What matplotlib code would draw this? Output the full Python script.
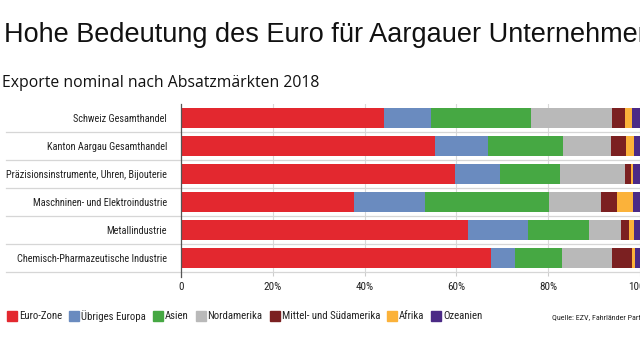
import matplotlib
matplotlib.use("Agg")
import matplotlib.pyplot as plt
from matplotlib import font_manager
from matplotlib.patches import Rectangle
from matplotlib.textpath import TextPath
from matplotlib.font_manager import FontProperties

categories = [
    "Schweiz Gesamthandel",
    "Kanton Aargau Gesamthandel",
    "Präzisionsinstrumente, Uhren, Bijouterie",
    "Maschninen- und Elektroindustrie",
    "Metallindustrie",
    "Chemisch-Pharmazeutische Industrie",
]
series_names = ["Euro-Zone", "Übriges Europa", "Asien", "Nordamerika",
                "Mittel- und Südamerika", "Afrika", "Ozeanien"]
euro_zone = [44.2, 55.4, 59.8, 37.6, 62.5, 67.5]
uebriges_europa = [10.3, 11.5, 9.8, 15.6, 13.0, 5.3]
asien = [21.7, 16.3, 13.0, 26.9, 13.3, 10.3]
nordamerika = [17.7, 10.4, 14.2, 11.5, 7.1, 10.9]
mittel_suedamerika = [2.9, 3.4, 1.2, 3.4, 1.6, 4.3]
afrika = [1.5, 1.7, 0.4, 3.5, 1.1, 0.7]
ozeanien = [1.7, 1.3, 1.6, 1.5, 1.4, 1.0]
xticks = [0, 20, 40, 60, 80, 100]
xtick_labels = ["0", "20%", "40%", "60%", "80%", "100%"]

title = "Hohe Bedeutung des Euro für Aargauer Unternehmen"
subtitle = "Exporte nominal nach Absatzmärkten 2018"
source = "Quelle: EZV, Fahrländer Partner"

colors = ["#e3282f", "#6a8bbf", "#46a843", "#b9b9b9", "#7b2021", "#fbb23a", "#4b2a86"]

installed = {f.name for f in font_manager.fontManager.ttflist}
narrow = "Roboto"
for cand in ["Liberation Sans Narrow", "Roboto Condensed", "Open Sans Condensed"]:
    if cand in installed:
        narrow = cand
        break

DPI = 100
PX = 72 / DPI  # points per pixel


def fit_size(text, target_px, family):
    tp = TextPath((0, 0), text, size=10, prop=FontProperties(family=family))
    w = tp.get_extents().width * DPI / 72
    return 10 * target_px / w


W, H = 640, 360
fig = plt.figure(figsize=(6.4, 3.6), dpi=DPI)
ax = fig.add_axes([181 / W, 1 - 272 / H, 459 / W, 168 / H])

series = [euro_zone, uebriges_europa, asien, nordamerika,
          mittel_suedamerika, afrika, ozeanien]
y = list(range(len(categories)))
left = [0.0] * len(categories)
for name, vals, c in zip(series_names, series, colors):
    ax.barh(y, vals, left=left, height=0.71, color=c, zorder=3, label=name)
    left = [l + v for l, v in zip(left, vals)]

cat_fs = fit_size(categories[2], 161, narrow)
tick_fs = fit_size("20%", 17, narrow)
leg_fs = fit_size("Euro-Zone", 42, narrow)
src_fs = fit_size("Quelle: EZV, Fahrländer Part", 88, narrow)

ax.set_xlim(0, 100)
ax.set_ylim(len(categories) - 0.5, -0.5)
ax.set_yticks(y)
ax.set_yticklabels(categories, fontfamily=narrow, fontsize=cat_fs, color="#222222")
ax.tick_params(axis="y", length=0, pad=14 * PX)
ax.set_xticks(xticks)
ax.set_xticklabels(xtick_labels, fontfamily=narrow, fontsize=tick_fs, color="#222222")
ax.tick_params(axis="x", length=4 * PX, color="#cccccc", pad=6.5 * PX)
for spine in ax.spines.values():
    spine.set_visible(False)
for xv in xticks[1:]:
    ax.axvline(xv, color="#d9d9d9", lw=0.8, zorder=1)
ax.plot([0, 0], [-0.5, 5.68], color="#555555", lw=0.9, clip_on=False, zorder=4)

xmin_frac = -(181 - 6) / 459
for i in range(len(categories)):
    ax.axhline(i + 0.5, xmin=xmin_frac, xmax=1, color="#d6d6d6", lw=0.9,
               clip_on=False, zorder=2)

title_font = "Liberation Sans"
title_fs = fit_size("Hohe Bedeutung des Euro für Aargauer Unternehme", 630, title_font)
sub_fs = fit_size(subtitle, 315, "Open Sans")
fig.text(4 / W, 1 - 41.7 / H, title, fontsize=title_fs, family=title_font,
         color="#111111", va="baseline", ha="left")
fig.text(2 / W, 1 - 87.3 / H, subtitle, fontsize=sub_fs, family="Open Sans",
         color="#111111", va="baseline", ha="left")

# legend
fig.canvas.draw()
renderer = fig.canvas.get_renderer()
xpos = 7
ymid = 315.7
for name, c in zip(series_names, colors):
    fig.add_artist(Rectangle((xpos / W, 1 - (ymid + 5) / H), 10 / W, 10 / H,
                             transform=fig.transFigure, color=c))
    t = fig.text((xpos + 12) / W, 1 - ymid / H, name, fontsize=leg_fs,
                 family=narrow, color="#222222", va="center", ha="left")
    bb = t.get_window_extent(renderer)
    xpos = bb.x1 + 7
fig.text(552 / W, 1 - 316.7 / H, source, fontsize=src_fs, family=narrow,
         color="#222222", va="center", ha="left")

fig.savefig("out.png", dpi=DPI)
